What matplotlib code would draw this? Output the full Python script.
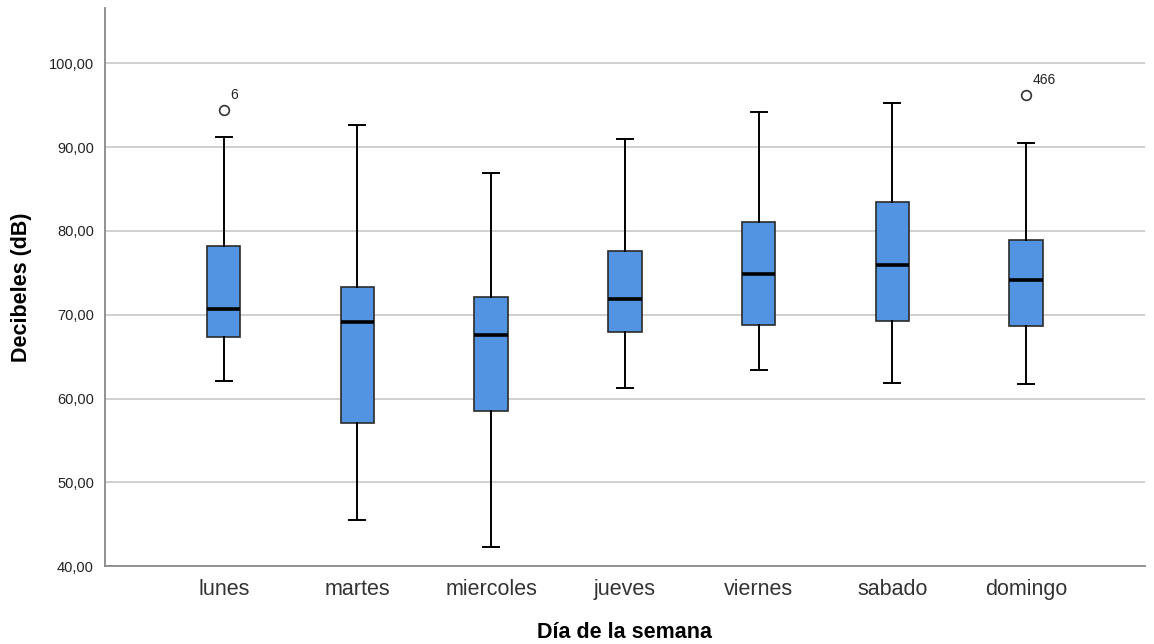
import numpy as np
import matplotlib.pyplot as plt

plt.rcParams['font.family'] = ['Liberation Sans', 'DejaVu Sans']

# Días y estadísticos
dias = ['lunes', 'martes', 'miercoles', 'jueves', 'viernes', 'sabado', 'domingo']
bigote_inf = [62.1, 45.5, 42.3, 61.3, 63.4, 61.8, 61.7]
q1 = [67.35, 57.1, 58.5, 67.9, 68.8, 69.3, 68.7]
mediana = [70.65, 69.1, 67.55, 71.85, 74.8, 75.9, 74.2]
q3 = [78.2, 73.25, 72.1, 77.6, 81.1, 83.4, 78.9]
bigote_sup = [91.2, 92.6, 86.9, 91.0, 94.2, 95.3, 90.5]
atipicos = [[94.4], [], [], [], [], [], [96.2]]
etiquetas_atipicos = [['6'], [], [], [], [], [], ['466']]

stats = []
for i in range(len(dias)):
    stats.append(dict(med=mediana[i], q1=q1[i], q3=q3[i],
                      whislo=bigote_inf[i], whishi=bigote_sup[i],
                      fliers=atipicos[i], label=dias[i]))

fig = plt.figure(figsize=(11.54, 6.44), dpi=100)
ax = fig.add_axes([0.091, 0.121, 0.901, 0.8665])

pos = np.arange(len(dias))
ax.bxp(stats, positions=pos, widths=0.25, patch_artist=True,
       boxprops=dict(facecolor='#5294E2', edgecolor='#2b2b2b', linewidth=1.2),
       medianprops=dict(color='black', linewidth=2.6),
       whiskerprops=dict(color='black', linewidth=1.4),
       capprops=dict(color='black', linewidth=1.4),
       capwidths=0.12,
       flierprops=dict(marker='o', markerfacecolor='white', markeredgecolor='#333333',
                       markersize=7, markeredgewidth=1.2),
       zorder=3)

for i in range(len(dias)):
    for v, lab in zip(atipicos[i], etiquetas_atipicos[i]):
        ax.annotate(lab, (pos[i], v), xytext=(5, 6), textcoords='offset points',
                    fontsize=10, color='#222222', ha='left', va='bottom')

ax.set_xlim(-0.888, 6.888)
ax.set_ylim(40, 106.6)
ax.set_yticks(np.arange(40, 101, 10))
ax.set_yticklabels([f'{t:.2f}'.replace('.', ',') for t in np.arange(40, 101, 10)],
                   fontsize=10.5, color='#222222')
ax.set_xticks(pos)
ax.set_xticklabels(dias, fontsize=15.5, color='#333333')
ax.tick_params(length=0, pad=8)
ax.tick_params(axis='x', pad=9)

ax.yaxis.grid(True, color='#cccccc', linewidth=1.3)
ax.set_axisbelow(True)
for s in ['top', 'right']:
    ax.spines[s].set_visible(False)
for s in ['left', 'bottom']:
    ax.spines[s].set_color('#888888')
    ax.spines[s].set_linewidth(1.3)

ax.set_ylabel('Decibeles (dB)', fontsize=15.5, fontweight='bold', labelpad=12)
ax.set_xlabel('Día de la semana', fontsize=15.5, fontweight='bold', labelpad=16)

fig.savefig('out.png', dpi=100)
